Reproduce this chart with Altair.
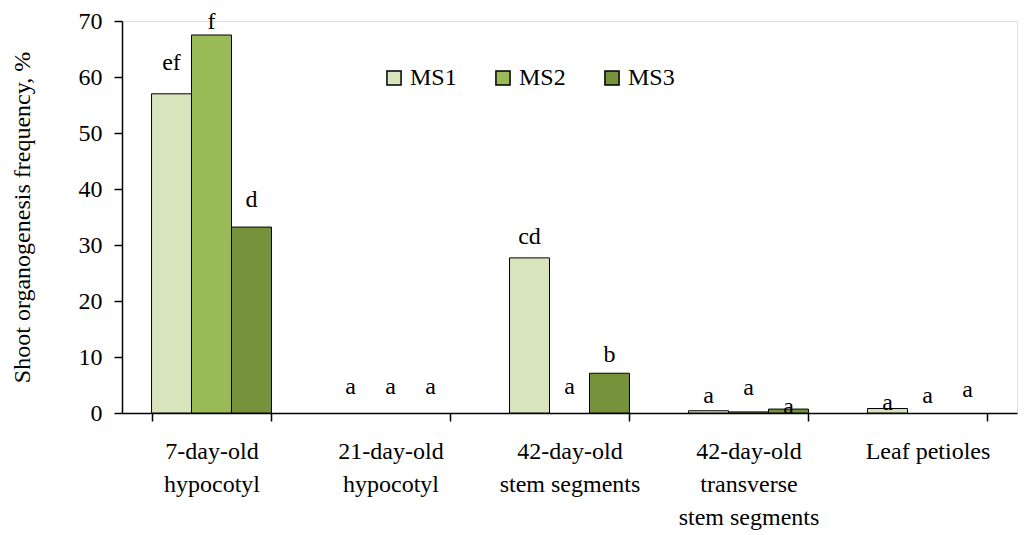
import altair as alt
import pandas as pd

categories = ["7-day-old|hypocotyl", "21-day-old|hypocotyl", "42-day-old|stem segments",
              "42-day-old|transverse|stem segments", "Leaf petioles"]
series = ["MS1", "MS2", "MS3"]
values = {
    "MS1": [57.0, 0.0, 27.7, 0.4, 0.8],
    "MS2": [67.5, 0.0, 0.0, 0.2, 0.0],
    "MS3": [33.2, 0.0, 7.1, 0.7, 0.0],
}
letters = {
    "MS1": ["ef", "a", "cd", "a", "a"],
    "MS2": ["f", "a", "a", "a", "a"],
    "MS3": ["d", "a", "b", "a", "a"],
}
label_heights = {
    "MS1": [62.5, 4.6, 31.4, 3.0, 1.8],
    "MS2": [69.8, 4.6, 4.6, 4.5, 3.0],
    "MS3": [38.0, 4.6, 10.4, 1.1, 4.1],
}
colors = ["#D8E4BC", "#9BBB59", "#76933C"]

rows = []
for s in series:
    for i, c in enumerate(categories):
        rows.append({"cat": c, "series": s, "value": values[s][i],
                     "letter": letters[s][i], "ly": label_heights[s][i]})
df = pd.DataFrame(rows)

FONT = "Liberation Serif"
FS = 24

x = alt.X("cat:N", sort=categories, title=None,
          scale=alt.Scale(paddingInner=0.33, paddingOuter=0.165),
          axis=alt.Axis(labelExpr="split(datum.label, '|')", labelAngle=0,
                        tickBand="extent", labelFontSize=FS, labelFont=FONT,
                        labelColor="black", labelLineHeight=33, labelPadding=18,
                        domainColor="black", domainWidth=1.5, tickColor="black",
                        tickWidth=1.5, tickSize=8, labelLimit=300))
xo = alt.XOffset("series:N", sort=series, scale=alt.Scale(paddingInner=0, paddingOuter=0))

bars = alt.Chart(df).transform_filter("datum.value > 0").mark_bar(
    stroke="black", strokeWidth=1).encode(
    x=x, xOffset=xo,
    y=alt.Y("value:Q", scale=alt.Scale(domain=[0, 70]),
            title="Shoot organogenesis frequency, %",
            axis=alt.Axis(values=list(range(0, 71, 10)), grid=False, labelFontSize=FS,
                          labelFont=FONT, labelColor="black", titleFont=FONT,
                          titleFontSize=FS, titleFontWeight="normal", titleColor="black",
                          titlePadding=44, labelPadding=12, domainColor="black",
                          domainWidth=1.5, tickColor="black", tickWidth=1.5, tickSize=8)),
    color=alt.Color("series:N", sort=series,
                    scale=alt.Scale(domain=series, range=colors),
                    legend=alt.Legend(title=None, orient="none", direction="horizontal",
                                      legendX=260, legendY=45, symbolType="square",
                                      symbolSize=200, symbolStrokeColor="black",
                                      symbolStrokeWidth=1.5, labelFont=FONT,
                                      labelFontSize=FS, labelColor="black",
                                      columnPadding=34, labelOffset=4)),
)

text = alt.Chart(df).mark_text(font=FONT, fontSize=FS, color="black", baseline="middle").encode(
    x=x, xOffset=xo, y=alt.Y("ly:Q"), text="letter:N")

chart = (bars + text).properties(
    width=895, height=392,
    autosize=alt.AutoSizeParams(type="none"),
    padding={"left": 114, "top": 13, "right": 1, "bottom": 118},
).configure_view(stroke="transparent", strokeWidth=0).configure(background="white")

chart.save("out.html", embed_options={"renderer": "svg", "actions": False})
